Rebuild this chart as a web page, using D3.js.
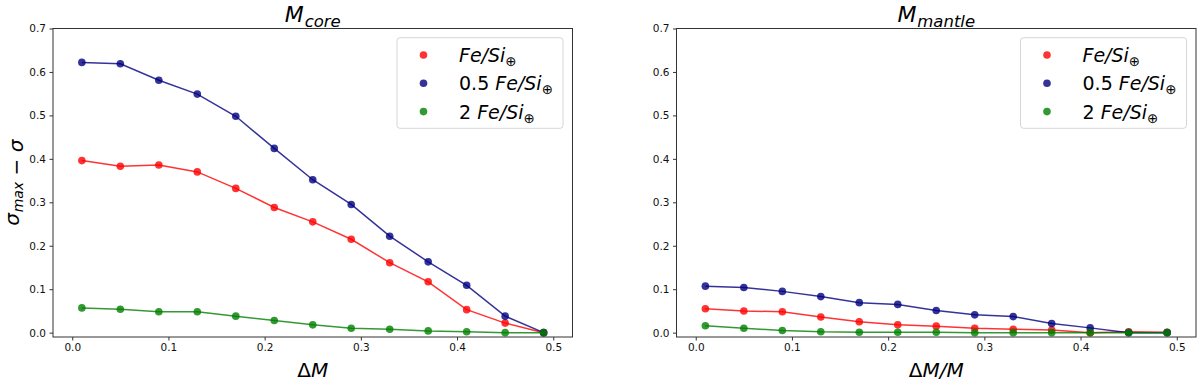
<!DOCTYPE html>
<html>
<head>
<meta charset="utf-8">
<script src="https://cdnjs.cloudflare.com/ajax/libs/d3/7.8.5/d3.min.js"></script>
<style>
  body { margin: 0; background: #fff; }
  text { font-family: "DejaVu Sans", sans-serif; }
</style>
</head>
<body>
<div id="chart"></div>
<script>
// x positions of the samples (same for both panels)
var dM = [0.01, 0.05, 0.09, 0.13, 0.17, 0.21, 0.25, 0.29, 0.33, 0.37, 0.41, 0.45, 0.49];

// M_core panel
var coreFeSi   = [0.396, 0.383, 0.386, 0.370, 0.332, 0.288, 0.255, 0.215, 0.161, 0.117, 0.053, 0.022, 0.000];
var coreHalf   = [0.622, 0.619, 0.581, 0.549, 0.498, 0.424, 0.352, 0.295, 0.222, 0.163, 0.109, 0.038, 0.000];
var coreDouble = [0.057, 0.054, 0.048, 0.048, 0.038, 0.028, 0.018, 0.010, 0.008, 0.004, 0.002, 0.000, 0.000];

// M_mantle panel
var mantleFeSi   = [0.055, 0.050, 0.048, 0.036, 0.025, 0.018, 0.015, 0.010, 0.008, 0.006, 0.000, 0.002, 0.001];
var mantleHalf   = [0.107, 0.104, 0.095, 0.083, 0.069, 0.065, 0.051, 0.041, 0.037, 0.021, 0.011, 0.000, 0.000];
var mantleDouble = [0.016, 0.010, 0.005, 0.002, 0.001, 0.001, 0.001, 0.000, 0.000, 0.000, 0.000, 0.000, 0.000];

var xTicks = [0.0, 0.1, 0.2, 0.3, 0.4, 0.5];
var yTicks = [0.0, 0.1, 0.2, 0.3, 0.4, 0.5, 0.6, 0.7];

// legend labels, as [text, style] pieces: i = italic, r = upright, s = subscript
var seriesLabels = [
    [['Fe/Si', 'i'], ['\u2295', 's']],
    [['0.5 ', 'r'], ['Fe/Si', 'i'], ['\u2295', 's']],
    [['2 ', 'r'], ['Fe/Si', 'i'], ['\u2295', 's']]
];
var seriesColors = ['#ff0000', '#000080', '#008000'];

var W = 1200, H = 382;

var svg = d3.select('#chart').append('svg')
    .attr('width', W).attr('height', H);

// write a small mathtext-like label into a text element
function mathText(sel, pieces, size, subScale) {
    var ss = subScale || 0.7;
    pieces.forEach(function(p) {
        var t = sel.append('tspan').text(p[0]);
        if (p[1] == 'i') t.style('font-style', 'italic').attr('font-size', size);
        if (p[1] == 'r') t.attr('font-size', size);
        if (p[1] == 'si') t.style('font-style', 'italic').attr('font-size', size * ss).attr('dy', size * 0.22).attr('dx', size * 0.04);
        if (p[1] == 's') t.attr('font-size', size * ss).attr('dy', size * 0.22);
    });
}

function panel(opts) {
    var x = d3.scaleLinear().domain([-0.02, 0.52]).range([opts.left, opts.left + 519.5]);
    var y = d3.scaleLinear().domain([-0.01, 0.7]).range([337, 28.5]);

    var g = svg.append('g');

    var xAxis = g.append('g').attr('transform', 'translate(0,337)')
        .call(d3.axisBottom(x).tickValues(xTicks).tickFormat(d3.format('.1f')).tickSize(3.5).tickPadding(3.5));
    var yAxis = g.append('g').attr('transform', 'translate(' + opts.left + ',0)')
        .call(d3.axisLeft(y).tickValues(yTicks).tickFormat(d3.format('.1f')).tickSize(3.5).tickPadding(3.5));

    [xAxis, yAxis].forEach(function(a) {
        a.select('.domain').remove();
        a.selectAll('.tick line').attr('stroke', '#333').attr('stroke-width', 1);
        a.selectAll('.tick text').attr('font-size', 10.5).attr('fill', '#111')
            .style('font-family', '"DejaVu Sans", sans-serif');
    });

    var line = d3.line().x(function(d) { return x(d[0]); }).y(function(d) { return y(d[1]); });

    opts.series.forEach(function(vals, k) {
        var pts = dM.map(function(v, i) { return [v, vals[i]]; });
        g.append('path')
            .attr('d', line(pts))
            .attr('fill', 'none')
            .attr('stroke', seriesColors[k])
            .attr('stroke-width', 1.5)
            .attr('stroke-opacity', 0.8);
        g.selectAll('circle.s' + k).data(pts).enter().append('circle')
            .attr('class', 's' + k)
            .attr('cx', function(d) { return x(d[0]); })
            .attr('cy', function(d) { return y(d[1]); })
            .attr('r', 3.8)
            .attr('fill', seriesColors[k])
            .attr('fill-opacity', 0.8);
    });

    // frame
    g.append('rect')
        .attr('x', x.range()[0]).attr('y', y.range()[1])
        .attr('width', x.range()[1] - x.range()[0])
        .attr('height', y.range()[0] - y.range()[1])
        .attr('fill', 'none').attr('stroke', '#333').attr('stroke-width', 1);

    var cx = (x.range()[0] + x.range()[1]) / 2;

    // title
    var title = g.append('text').attr('x', cx).attr('y', 22).attr('text-anchor', 'middle').attr('fill', '#000');
    mathText(title, opts.title, 22, 0.75);

    // x label
    var xl = g.append('text').attr('x', cx).attr('y', 376.5).attr('text-anchor', 'middle').attr('fill', '#000');
    mathText(xl, opts.xlabel, 20);

    if (opts.ylabel) {
        var yl = g.append('text')
            .attr('transform', 'translate(19,' + ((y.range()[0] + y.range()[1]) / 2) + ') rotate(-90)')
            .attr('text-anchor', 'middle').attr('fill', '#000');
        mathText(yl, opts.ylabel, 20);
    }

    // legend
    var lx = x.range()[1] - 9.5 - 166, ly = 37.7;
    g.append('rect')
        .attr('x', lx).attr('y', ly).attr('width', 166).attr('height', 90.6)
        .attr('rx', 3).attr('ry', 3)
        .attr('fill', '#fff').attr('fill-opacity', 0.8)
        .attr('stroke', '#d6d6d6').attr('stroke-width', 1);

    seriesLabels.forEach(function(lab, k) {
        var ry = ly + 17.3 + k * 28.3;
        g.append('circle').attr('cx', lx + 26.5).attr('cy', ry).attr('r', 3.8)
            .attr('fill', seriesColors[k]).attr('fill-opacity', 0.8);
        var t = g.append('text').attr('x', lx + 62).attr('y', ry + 7).attr('fill', '#000');
        mathText(t, lab, 19);
    });
}

panel({
    left: 53,
    series: [coreFeSi, coreHalf, coreDouble],
    title: [['M', 'i'], ['core', 'si']],
    xlabel: [['\u0394', 'r'], ['M', 'i']],
    ylabel: [['\u03c3', 'i'], ['max', 'si'], [' \u2212 ', 'r'], ['\u03c3', 'i']]
});

panel({
    left: 676.5,
    series: [mantleFeSi, mantleHalf, mantleDouble],
    title: [['M', 'i'], ['mantle', 'si']],
    xlabel: [['\u0394', 'r'], ['M/M', 'i']]
});
</script>
</body>
</html>
